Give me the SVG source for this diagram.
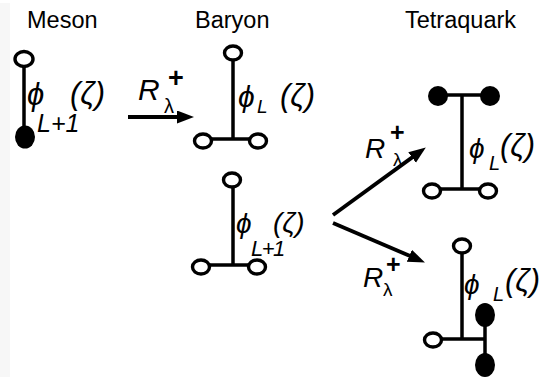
<svg xmlns="http://www.w3.org/2000/svg" width="551" height="377" viewBox="0 0 551 377">
<defs>
<style>
.lbl{font-family:"Liberation Sans",Arial,sans-serif;font-size:23.5px;fill:#000}
.m{font-family:"Liberation Sans","DejaVu Sans",sans-serif;font-style:italic;fill:#000}
.u{font-family:"Liberation Sans","DejaVu Sans",sans-serif;fill:#000}
.ln{stroke:#000;stroke-width:3.5;fill:none}
.oc{stroke:#000;stroke-width:3.4;fill:#fff}
.fc{fill:#000;stroke:none}
.ar{stroke:#000;stroke-width:3.8;fill:none;marker-end:url(#ah)}
</style>
<marker id="ah" markerUnits="userSpaceOnUse" markerWidth="20" markerHeight="14" refX="4" refY="6.5" orient="auto">
<path d="M0,0 L17,6.5 L0,13 z" fill="#000"/>
</marker>
</defs>
<rect x="0" y="3" width="10" height="374" fill="#f7f7f7"/>
<g id="titles">
<text class="lbl" x="27" y="28">Meson</text>
<text class="lbl" x="195" y="28">Baryon</text>
<text class="lbl" x="405" y="28">Tetraquark</text>
</g>
<g id="meson">
<line class="ln" x1="24" y1="66" x2="24" y2="132"/>
<ellipse class="oc" cx="24" cy="59" rx="9" ry="7.5"/>
<ellipse class="fc" cx="25" cy="137" rx="10" ry="11.5"/>
<text class="m" x="27" y="105" font-size="31">ϕ</text>
<text class="m" x="37" y="132" font-size="25">L+1</text>
<text class="m" x="70" y="104" font-size="31">(ζ)</text>
</g>
<g id="baryon1">
<line class="ln" x1="233" y1="60" x2="233" y2="139"/>
<line class="ln" x1="203" y1="139" x2="258" y2="139"/>
<ellipse class="oc" cx="233" cy="53" rx="8.5" ry="7"/>
<ellipse class="oc" cx="203" cy="141" rx="8.5" ry="7"/>
<ellipse class="oc" cx="258" cy="141" rx="8.5" ry="7"/>
<text class="m" x="238" y="107" font-size="30">ϕ</text>
<text class="m" x="257" y="113" font-size="19">L</text>
<text class="m" x="280" y="106" font-size="31">(ζ)</text>
</g>
<g id="baryon2">
<line class="ln" x1="233" y1="187" x2="233" y2="265"/>
<line class="ln" x1="201" y1="265" x2="257" y2="265"/>
<ellipse class="oc" cx="232" cy="180" rx="8.5" ry="7"/>
<ellipse class="oc" cx="201" cy="267" rx="8.5" ry="7"/>
<ellipse class="oc" cx="257" cy="267" rx="8.5" ry="7"/>
<text class="m" x="236" y="233" font-size="28">ϕ</text>
<text class="m" x="251" y="256" font-size="22" letter-spacing="-1.5">L+1</text>
<text class="m" x="273" y="232" font-size="28">(ζ)</text>
</g>
<g id="tetraquark1">
<line class="ln" x1="438" y1="95" x2="490" y2="95"/>
<line class="ln" x1="462" y1="95" x2="462" y2="189"/>
<line class="ln" x1="432" y1="189" x2="488" y2="189"/>
<ellipse class="fc" cx="438" cy="96" rx="10" ry="10"/>
<ellipse class="fc" cx="490" cy="96" rx="10" ry="10"/>
<ellipse class="oc" cx="432" cy="191" rx="8.5" ry="7"/>
<ellipse class="oc" cx="488" cy="191" rx="8.5" ry="7"/>
<text class="m" x="469" y="158" font-size="28">ϕ</text>
<text class="m" x="489" y="170" font-size="20">L</text>
<text class="m" x="500" y="156" font-size="31">(ζ)</text>
</g>
<g id="tetraquark2">
<line class="ln" x1="462" y1="253" x2="462" y2="339"/>
<line class="ln" x1="433" y1="339" x2="485" y2="339"/>
<line class="ln" x1="485" y1="315" x2="485" y2="365"/>
<ellipse class="oc" cx="462" cy="246" rx="8.5" ry="7"/>
<ellipse class="oc" cx="433" cy="340" rx="8.5" ry="7"/>
<ellipse class="fc" cx="485" cy="315" rx="10" ry="12"/>
<ellipse class="fc" cx="485" cy="365" rx="10" ry="12"/>
<text class="m" x="464" y="294" font-size="28">ϕ</text>
<text class="m" x="493" y="301" font-size="20">L</text>
<text class="m" x="505" y="291" font-size="31">(ζ)</text>
</g>
<g id="connectors">
<line class="ar" x1="128" y1="117" x2="181" y2="117"/>
<line class="ar" x1="333" y1="215" x2="415.3" y2="155.1"/>
<line class="ar" x1="333" y1="223" x2="413" y2="257.3"/>
<text class="m" x="138" y="100" font-size="30">R</text>
<text class="u" x="168" y="87" font-size="27" font-weight="bold">+</text>
<text class="u" x="164" y="113" font-size="20">λ</text>
<text class="m" x="365" y="158" font-size="28">R</text>
<text class="u" x="390" y="141" font-size="25" font-weight="bold">+</text>
<text class="u" x="393" y="166" font-size="19">λ</text>
<text class="m" x="363" y="287" font-size="28">R</text>
<text class="u" x="386" y="273" font-size="25" font-weight="bold">+</text>
<text class="u" x="383" y="296" font-size="19">λ</text>
</g>
</svg>
